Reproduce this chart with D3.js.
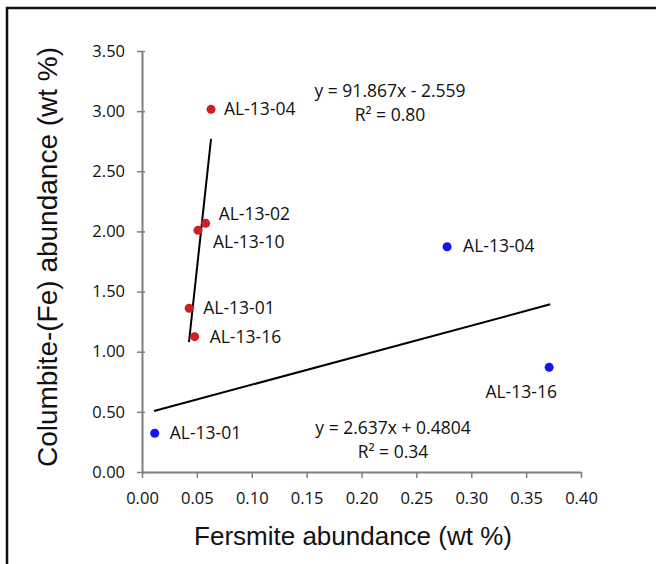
<!DOCTYPE html>
<html>
<head>
<meta charset="utf-8">
<script src="https://cdn.jsdelivr.net/npm/d3@7"></script>
<style>
  body { margin: 0; background: #fff; }
  svg text { font-family: "Open Sans", sans-serif; fill: #111; }
  .title { font-family: "Liberation Sans", Arial, sans-serif; }
</style>
</head>
<body>
<div id="chart"></div>
<script>
// Columbite-(Fe) vs fersmite, two groups of samples
const redLabels = ["AL-13-04", "AL-13-02", "AL-13-10", "AL-13-01", "AL-13-16"];
const redX = [0.0629, 0.058, 0.051, 0.043, 0.048];
const redY = [3.015, 2.067, 2.009, 1.361, 1.125];

const blueLabels = ["AL-13-01", "AL-13-04", "AL-13-16"];
const blueX = [0.0116, 0.278, 0.371];
const blueY = [0.322, 1.873, 0.870];

// trend line ends as drawn in the figure [x0, y0, x1, y1]
const redTrend = [0.0428, 1.08, 0.0629, 2.77];
const blueTrend = [0.011, 0.507, 0.372, 1.394];

const redEq = ["y = 91.867x - 2.559", "R² = 0.80"];
const blueEq = ["y = 2.637x + 0.4804", "R² = 0.34"];

const xTicks = [0, 0.05, 0.1, 0.15, 0.2, 0.25, 0.3, 0.35, 0.4];
const yTicks = [0, 0.5, 1, 1.5, 2, 2.5, 3, 3.5];

// label placement (dx, dy from point, anchor)
const redLabelPos = [[13, 6, "start"], [13, -3, "start"], [15, 18, "start"], [14, 6, "start"], [15, 6, "start"]];
const blueLabelPos = [[15, 6, "start"], [16, 5, "start"], [-28, 31, "middle"]];

const W = 656, H = 564;
const svg = d3.select("#chart").append("svg")
    .attr("width", W)
    .attr("height", H);

// frame (left and top only)
svg.append("path")
    .attr("d", "M7,564 V8 H656")
    .attr("fill", "none")
    .attr("stroke", "#111")
    .attr("stroke-width", 2.5);

let x = d3.scaleLinear().domain([0, 0.4]).range([142, 581]);
let y = d3.scaleLinear().domain([0, 3.5]).range([472, 51]);

const axisColor = "#7f7f7f";

// Y axis
let yAxis = svg.append("g")
    .attr("transform", "translate(142,0)")
    .call(d3.axisLeft(y).tickValues(yTicks).tickFormat(d3.format(".2f")).tickSize(5).tickSizeOuter(0).tickPadding(12));
yAxis.select(".domain").attr("stroke", axisColor).attr("stroke-width", 2);
yAxis.selectAll(".tick line").attr("stroke", axisColor).attr("stroke-width", 1.5).attr("x2", -5).attr("x1", 3);
yAxis.selectAll(".tick text").attr("font-size", 16.5).attr("font-family", "Open Sans").attr("fill", "#111");

// X axis
let xAxis = svg.append("g")
    .attr("transform", "translate(0,472)")
    .call(d3.axisBottom(x).tickValues(xTicks).tickFormat(d3.format(".2f")).tickSize(6).tickSizeOuter(0).tickPadding(14));
xAxis.select(".domain").attr("stroke", axisColor).attr("stroke-width", 2);
xAxis.selectAll(".tick line").attr("stroke", axisColor).attr("stroke-width", 1.5);
xAxis.selectAll(".tick text").attr("font-size", 16.5).attr("font-family", "Open Sans").attr("fill", "#111");

// axis titles
svg.append("text")
    .attr("class", "title")
    .attr("x", 353)
    .attr("y", 545)
    .attr("text-anchor", "middle")
    .attr("font-size", 26)
    .text("Fersmite abundance (wt %)");

svg.append("text")
    .attr("class", "title")
    .attr("transform", "translate(57,257) rotate(-90)")
    .attr("text-anchor", "middle")
    .attr("font-size", 28)
    .text("Columbite-(Fe) abundance (wt %)");

// trend lines
function trend(t) {
    svg.append("line")
        .attr("x1", x(t[0])).attr("y1", y(t[1]))
        .attr("x2", x(t[2])).attr("y2", y(t[3]))
        .attr("stroke", "#000")
        .attr("stroke-width", 2);
}
trend(redTrend);
trend(blueTrend);

function points(xs, ys, labels, pos, color) {
    let data = xs.map(function (d, i) { return { x: d, y: ys[i], label: labels[i], p: pos[i] }; });
    svg.selectAll(null)
        .data(data)
        .enter()
        .append("circle")
        .attr("cx", function (d) { return x(d.x) })
        .attr("cy", function (d) { return y(d.y) })
        .attr("r", 4.5)
        .attr("fill", color);
    svg.selectAll(null)
        .data(data)
        .enter()
        .append("text")
        .attr("x", function (d) { return x(d.x) + d.p[0] })
        .attr("y", function (d) { return y(d.y) + d.p[1] })
        .attr("text-anchor", function (d) { return d.p[2] })
        .attr("font-size", 17.5)
        .text(function (d) { return d.label });
}
points(redX, redY, redLabels, redLabelPos, "#d01f22");
points(blueX, blueY, blueLabels, blueLabelPos, "#1414f5");

// equations
function equation(lines, cx, by) {
    svg.selectAll(null)
        .data(lines)
        .enter()
        .append("text")
        .attr("x", cx)
        .attr("y", function (d, i) { return by + i * 24 })
        .attr("text-anchor", "middle")
        .attr("font-size", 17.5)
        .text(function (d) { return d });
}
equation(redEq, 390, 97);
equation(blueEq, 393, 434);
</script>
</body>
</html>
